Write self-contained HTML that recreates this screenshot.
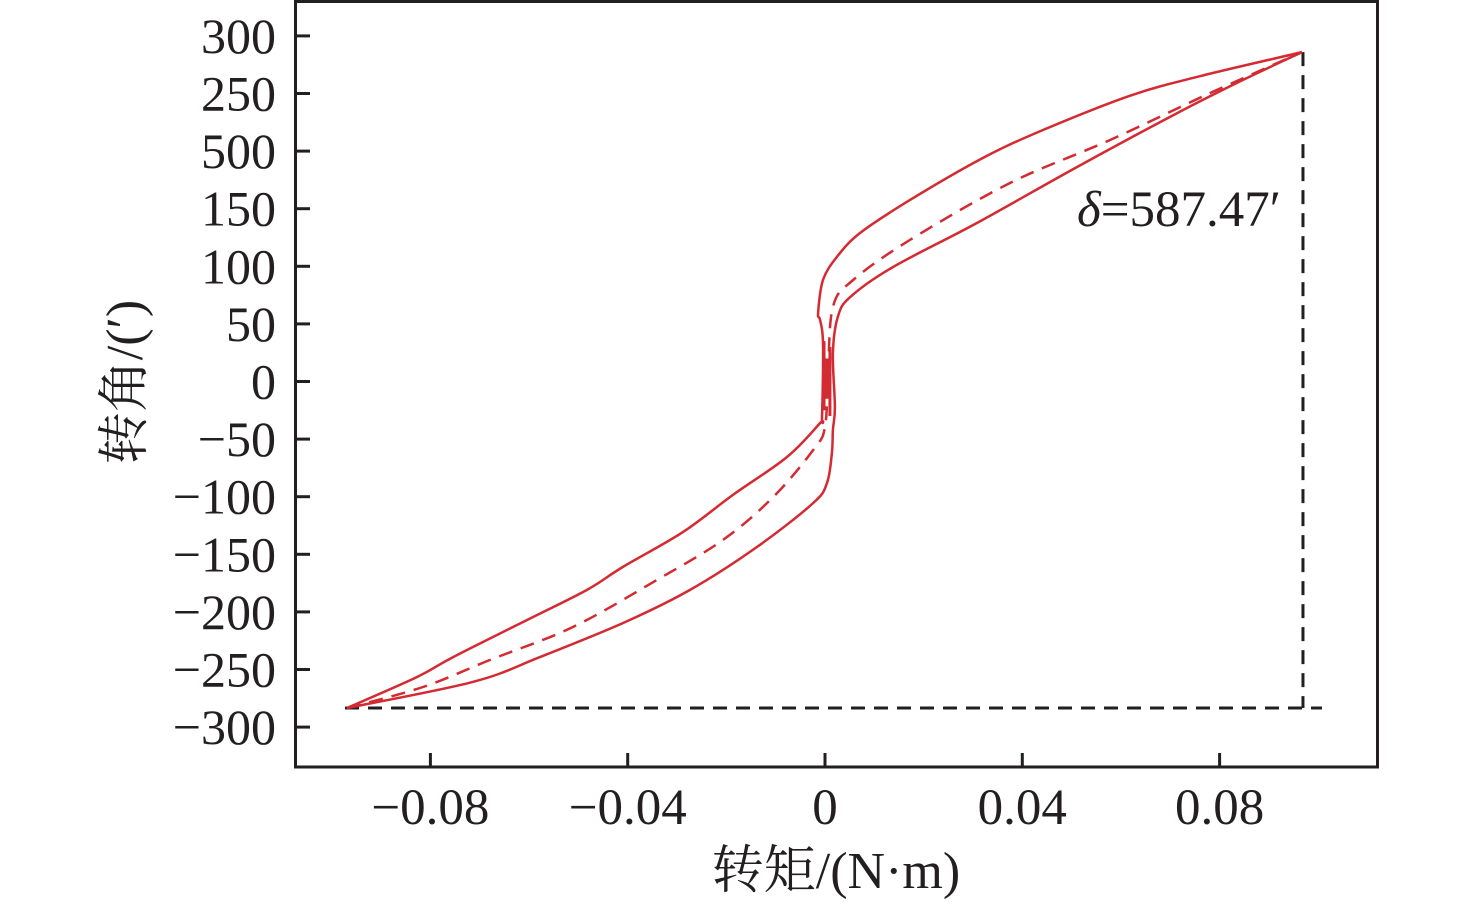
<!DOCTYPE html>
<html><head><meta charset="utf-8"><style>
html,body{margin:0;padding:0;background:#fff;}
svg{display:block;font-family:"Liberation Serif","Noto Serif CJK SC",serif;}
</style></head><body>
<svg id="chart" width="1476" height="904" viewBox="0 0 1476 904" xmlns="http://www.w3.org/2000/svg">
<g id="ticks"></g>
<g id="curves"></g>
<rect x="295.5" y="1.5" width="1082" height="765.5" fill="none" stroke="#231f20" stroke-width="3"/>
<text x="1077" y="226" font-size="51" fill="#231f20"><tspan font-style="italic">δ</tspan>=587.47′</text>
<text x="836" y="888" font-size="52" text-anchor="middle" fill="#231f20">转矩/(N·m)</text>
<text transform="translate(142,382) rotate(-90)" font-size="52" text-anchor="middle" fill="#231f20">转角/(′)</text>
</svg>
<script>
const xTicks=[-0.08,-0.04,0,0.04,0.08];
const xTickLabels=["−0.08","−0.04","0","0.04","0.08"];
const yTicks=[300,250,200,150,100,50,0,-50,-100,-150,-200,-250,-300];
const yTickLabels=["300","250","500","150","100","50","0","−50","−100","−150","−200","−250","−300"];
const upperT=[-0.0969,-0.0827,-0.0754,-0.0604,-0.0483,-0.0410,-0.0288,-0.0187,-0.0077,-0.0010,-0.0006,-0.0004,-0.0010,-0.0014,-0.0004,0.0024,0.0071,0.0172,0.0320,0.0442,0.0618,0.0760,0.0967];
const upperA=[-283.4,-256.5,-239.2,-207.0,-181.0,-161.0,-130.7,-98.5,-65.5,-36.0,-30.8,33.4,53.4,59.5,88.2,108.1,128.9,157.5,194.0,218.3,248.0,265.0,285.9];
const lowerT=[-0.0969,-0.0714,-0.0578,-0.0410,-0.0274,-0.0138,-0.0024,0.0004,0.0014,0.0016,0.0020,0.0016,0.0026,0.0051,0.0138,0.0308,0.0511,0.0714,0.0847,0.0967];
const lowerA=[-283.4,-260.8,-239.2,-209.7,-181.0,-143.7,-105.5,-88.1,-62.1,-42.1,-22.1,24.7,56.0,73.3,99.4,137.6,186.2,233.0,261.7,285.9];
const midT=[-0.0969,-0.0815,-0.0679,-0.0511,-0.0341,-0.0207,-0.0105,-0.0024,0.0000,0.0006,0.0016,0.0057,0.0172,0.0375,0.0578,0.0781,0.0967];
const midA=[-283.4,-265.2,-241.7,-213.1,-172.3,-137.6,-100.3,-59.5,-39.5,7.4,64.7,88.1,122.8,172.3,209.6,250.4,285.9];
const maxT=0.0967, maxA=285.9, minA=-283.4;

const NS="http://www.w3.org/2000/svg";
function xs(t){return 825+t*4932.5;}
function ys(a){return 381.5-a*57.6/50;}
function el(tag,attrs,parent){const e=document.createElementNS(NS,tag);for(const k in attrs)e.setAttribute(k,attrs[k]);parent.appendChild(e);return e;}
const tg=document.getElementById('ticks');
xTicks.forEach((v,i)=>{
  const l=el('line',{x1:xs(v),x2:xs(v),y1:767,y2:753,stroke:'#231f20','stroke-width':3},tg);
  
  
  const t=el('text',{x:xs(v),y:824,'font-size':51,'text-anchor':'middle',fill:'#231f20'},tg);
  t.textContent=xTickLabels[i];
  
  
});
yTicks.forEach((v,i)=>{
  const l=el('line',{x1:295,x2:310,y1:ys(v),y2:ys(v),stroke:'#231f20','stroke-width':3},tg);
  
  
  const t=el('text',{x:276,y:ys(v)+17,'font-size':50,'text-anchor':'end',fill:'#231f20'},tg);
  t.textContent=yTickLabels[i];
  
  
});
const cg=document.getElementById('curves');
function path(T,A){
  const P=T.map((t,i)=>[xs(t),ys(A[i])]);
  let d='M'+P[0][0].toFixed(1)+','+P[0][1].toFixed(1);
  for(let i=0;i<P.length-1;i++){
    const p0=P[Math.max(0,i-1)],p1=P[i],p2=P[i+1],p3=P[Math.min(P.length-1,i+2)];
    const c1=[p1[0]+(p2[0]-p0[0])/6,p1[1]+(p2[1]-p0[1])/6];
    const c2=[p2[0]-(p3[0]-p1[0])/6,p2[1]-(p3[1]-p1[1])/6];
    d+=' C'+c1.map(v=>v.toFixed(1)).join(',')+' '+c2.map(v=>v.toFixed(1)).join(',')+' '+p2.map(v=>v.toFixed(1)).join(',');
  }
  return d;
}
const refV=el('line',{x1:xs(maxT)+1,x2:xs(maxT)+1,y1:ys(maxA),y2:ys(minA),stroke:'#231f20','stroke-width':3,'stroke-dasharray':'14,9'},cg);


const refH=el('line',{x1:345,x2:1322,y1:ys(minA),y2:ys(minA),stroke:'#231f20','stroke-width':3,'stroke-dasharray':'14,9'},cg);


const pu=el('path',{d:path(upperT,upperA),fill:'none',stroke:'#d42a32','stroke-width':2.5,'stroke-linejoin':'round'},cg);


const pl=el('path',{d:path(lowerT,lowerA),fill:'none',stroke:'#d42a32','stroke-width':2.5,'stroke-linejoin':'round'},cg);


const pm=el('path',{d:path(midT,midA),fill:'none',stroke:'#d42a32','stroke-width':2.5,'stroke-dasharray':'14,9'},cg);


const jit=el('path',{d:`M${xs(-0.0002)},${ys(35)} L${xs(-0.0002)},${ys(-25)} M${xs(0.0010)},${ys(30)} L${xs(0.0010)},${ys(-30)} M${xs(0.0004)},${ys(20)} L${xs(0.0004)},${ys(-15)}`,fill:'none',stroke:'#d42a32','stroke-width':3},cg);


</script>
</body></html>
